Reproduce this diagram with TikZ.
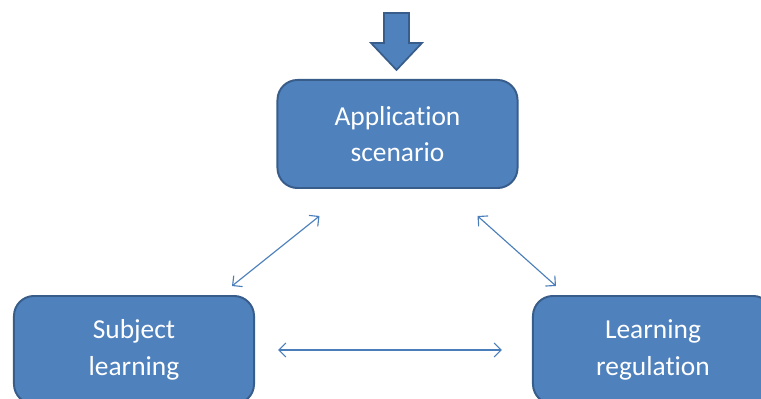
\documentclass[tikz,border=0pt]{standalone}
\usepackage{fontspec}
\setmainfont{Carlito}[Ligatures=NoCommon]
\usepackage{xcolor}
\usepackage{tikz}
\usetikzlibrary{arrows.meta,positioning,calc}

\definecolor{boxblue}{HTML}{4F81BD}
\definecolor{boxedge}{HTML}{385D8A}
\definecolor{linkblue}{HTML}{4A7EBB}

\tikzset{
  stagebox/.style={draw=boxedge, line width=1.4pt, fill=boxblue, rounded corners=0.5cm,
    minimum width=6.0cm, minimum height=2.7cm, align=center, text=white,
    font=\fontsize{19.5}{26}\selectfont},
  link/.style={linkblue, line width=0.8pt, {Straight Barb[length=5pt,width=10pt]}-{Straight Barb[length=5pt,width=10pt]}}
}

\begin{document}
\begin{tikzpicture}[x=0.025cm, y=-0.025cm]
    \clip (0,0) rectangle (761,399);
    \node[stagebox] (app) at (397.5,134) {Application\\scenario};
    \node[stagebox] (subj) at (134,350) {Subject\\learning};
    \node[stagebox] (learn) at (653,350) {Learning\\regulation};
    \draw[boxedge, fill=boxblue, line width=1.2pt] (384,13) -- (409,13) -- (409,43) -- (422,43)
        -- (396.5,70) -- (371,43) -- (384,43) -- cycle;
    \draw[link] ($(app.south west)+(43,27)$) -- ($(subj.north east)+(-23,-9)$);
    \draw[link] ($(app.south east)+(-41,27)$) -- ($(learn.north west)+(24,-9)$);
    \draw[link] ($(subj.east)+(23,0)$) -- ($(learn.west)+(-30,0)$);
\end{tikzpicture}
\end{document}
